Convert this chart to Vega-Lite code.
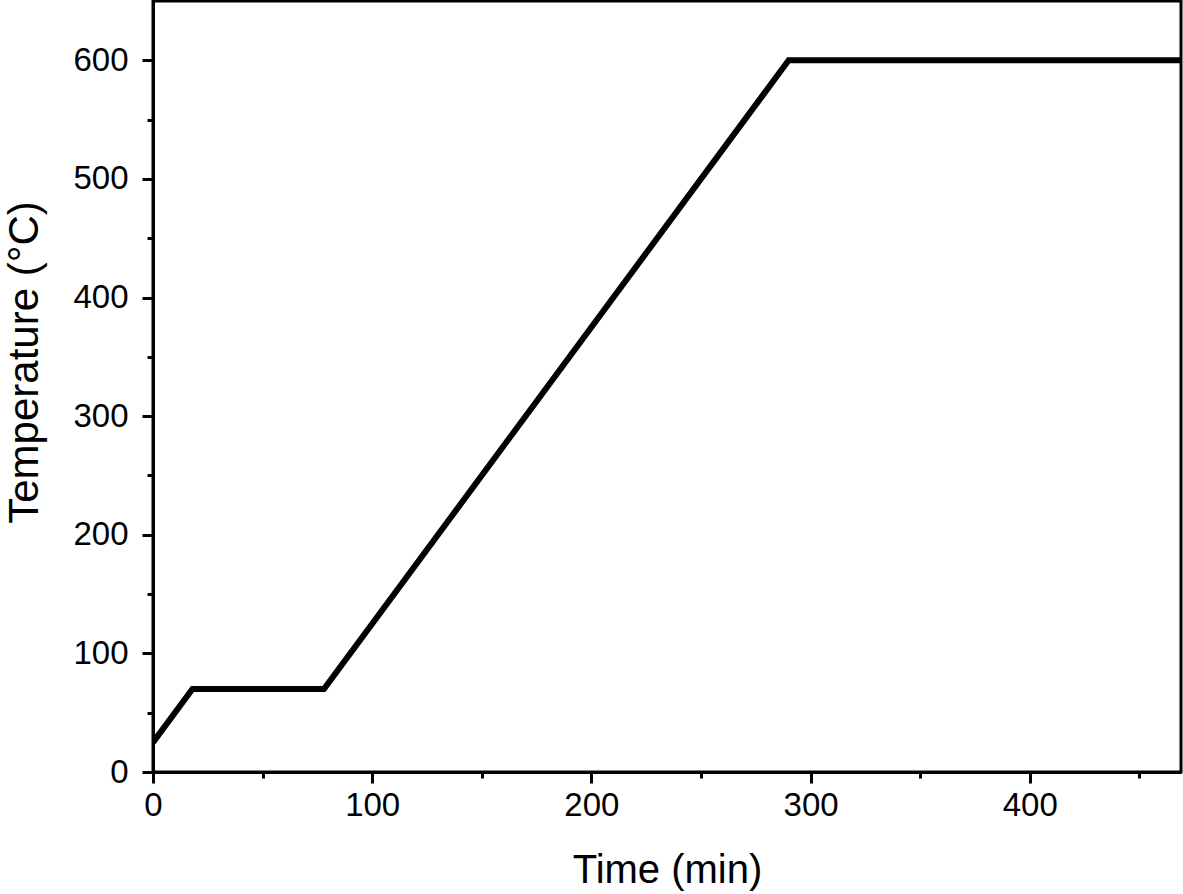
{
  "$schema": "https://vega.github.io/schema/vega-lite/v6.json",
  "autosize": "none",
  "padding": {"left": 153, "top": 1, "right": 2, "bottom": 122},
  "width": 1028,
  "height": 771,
  "background": "white",
  "config": {
    "font": "Liberation Sans",
    "view": {"stroke": "black", "strokeWidth": 3}
  },
  "data": {
    "values": [
      {"time": 0, "temp": 25},
      {"time": 18, "temp": 70},
      {"time": 78, "temp": 70},
      {"time": 290, "temp": 600},
      {"time": 470, "temp": 600}
    ]
  },
  "mark": {"type": "line", "color": "black", "strokeWidth": 6, "clip": true, "strokeJoin": "miter"},
  "encoding": {
    "x": {
      "field": "time", "type": "quantitative",
      "scale": {"domain": [0, 469], "nice": false, "zero": false},
      "axis": {
        "title": "Time (min)", "titleFontSize": 40, "titleFontWeight": "normal", "titleColor": "black", "titlePadding": 28,
        "values": [0, 50, 100, 150, 200, 250, 300, 350, 400, 450],
        "labelExpr": "datum.value % 100 == 0 ? datum.label : ''",
        "labelFontSize": 33, "labelColor": "black", "labelPadding": 6, "labelFlush": false, "labelOverlap": false,
        "tickColor": "black", "tickWidth": 3,
        "tickSize": {"condition": {"test": "datum.value % 100 != 0", "value": 6}, "value": 11},
        "domainColor": "black", "domainWidth": 3, "grid": false
      }
    },
    "y": {
      "field": "temp", "type": "quantitative",
      "scale": {"domain": [0, 650], "nice": false},
      "axis": {
        "title": "Temperature (°C)", "titleFontSize": 42, "titleFontWeight": "normal", "titleColor": "black", "titlePadding": 26,
        "titleY": 361,
        "values": [0, 50, 100, 150, 200, 250, 300, 350, 400, 450, 500, 550, 600],
        "labelExpr": "datum.value % 100 == 0 ? datum.label : ''",
        "labelFontSize": 33, "labelColor": "black", "labelPadding": 14, "labelFlush": false, "labelOverlap": false,
        "tickColor": "black", "tickWidth": 3,
        "tickSize": {"condition": {"test": "datum.value % 100 != 0", "value": 6}, "value": 11},
        "domainColor": "black", "domainWidth": 3, "grid": false
      }
    }
  }
}
